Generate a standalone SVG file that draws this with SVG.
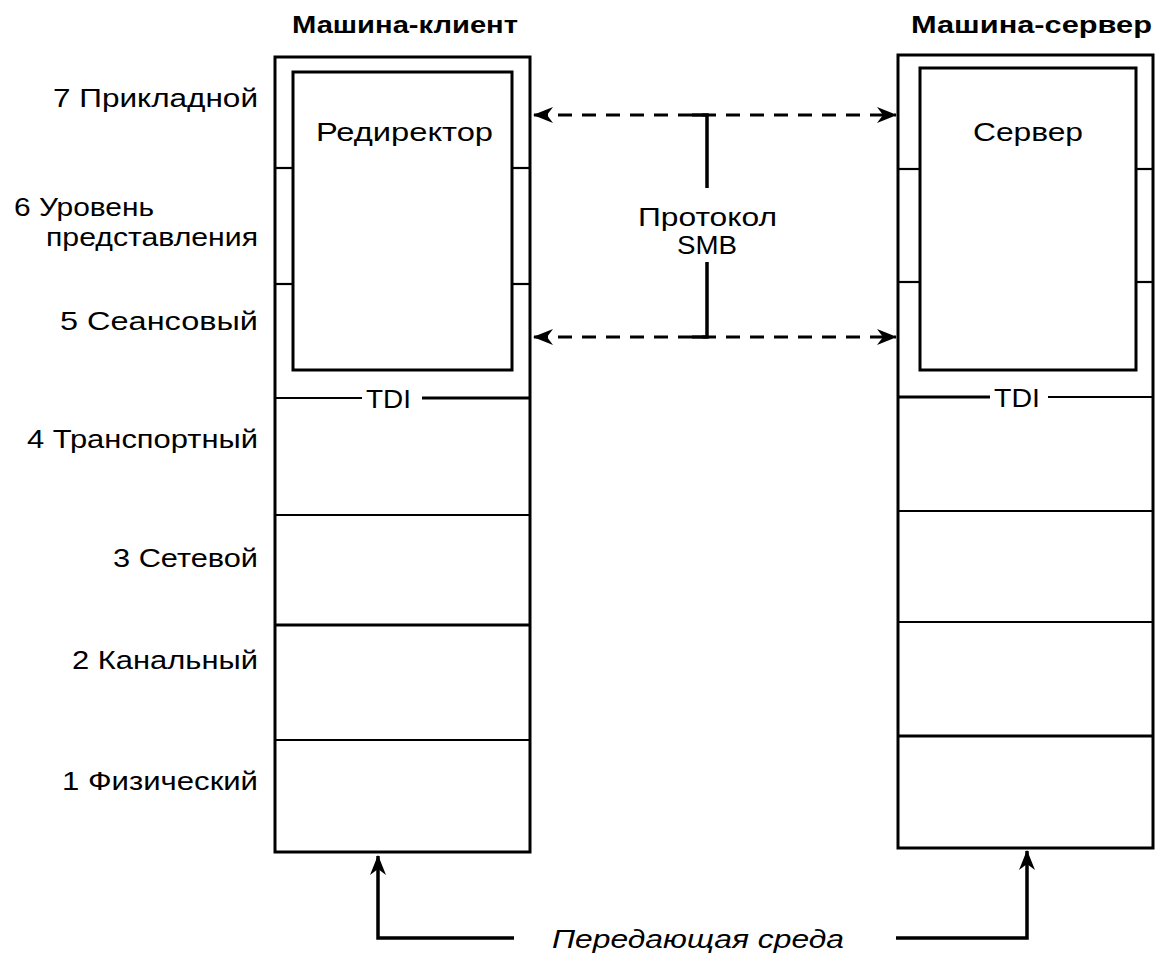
<svg xmlns="http://www.w3.org/2000/svg" width="1155" height="957" viewBox="0 0 1155 957">
  <style>
    .bg { fill: #ffffff; }
    .box { fill: none; stroke: #000; stroke-width: 3; }
    .div { fill: none; stroke: #000; stroke-width: 2.2; }
    .lbl { font-family: "Liberation Sans", "DejaVu Sans", sans-serif; font-size: 25px; fill: #000; }
    .title { font-family: "Liberation Sans", "DejaVu Sans", sans-serif; font-size: 24px; font-weight: bold; fill: #000; }
    .ital { font-style: italic; }
    .dash { fill: none; stroke: #000; stroke-width: 3; stroke-dasharray: 14 10; }
    .solid { fill: none; stroke: #000; stroke-width: 3.5; }
  </style>
  <defs>
    <marker id="arrow" viewBox="0 0 20 16" refX="19" refY="8" markerWidth="20" markerHeight="16" markerUnits="userSpaceOnUse" orient="auto-start-reverse">
      <path d="M0,0 L20,8 L0,16 L6,8 Z" fill="#000"/>
    </marker>
  </defs>

  <rect class="bg" x="0" y="0" width="1155" height="957"/>

  <!-- Titles -->
  <text class="title" x="292" y="33" textLength="226" lengthAdjust="spacingAndGlyphs">Машина-клиент</text>
  <text class="title" x="911" y="33" textLength="241" lengthAdjust="spacingAndGlyphs">Машина-сервер</text>

  <!-- OSI layer labels -->
  <g id="layer-labels">
    <text class="lbl" x="53" y="107" textLength="205" lengthAdjust="spacingAndGlyphs">7 Прикладной</text>
    <text class="lbl" x="14" y="216" textLength="140" lengthAdjust="spacingAndGlyphs">6 Уровень</text>
    <text class="lbl" x="46" y="246" textLength="212" lengthAdjust="spacingAndGlyphs">представления</text>
    <text class="lbl" x="60" y="330" textLength="198" lengthAdjust="spacingAndGlyphs">5 Сеансовый</text>
    <text class="lbl" x="27" y="448" textLength="231" lengthAdjust="spacingAndGlyphs">4 Транспортный</text>
    <text class="lbl" x="113" y="567" textLength="145" lengthAdjust="spacingAndGlyphs">3 Сетевой</text>
    <text class="lbl" x="72" y="669" textLength="186" lengthAdjust="spacingAndGlyphs">2 Канальный</text>
    <text class="lbl" x="62" y="790" textLength="196" lengthAdjust="spacingAndGlyphs">1 Физический</text>
  </g>

  <!-- Client machine stack -->
  <g id="client">
    <rect class="box" x="275" y="57" width="255" height="795"/>
    <rect class="box" x="293" y="72" width="219" height="298"/>
    <line class="div" x1="275" y1="168" x2="293" y2="168"/>
    <line class="div" x1="512" y1="168" x2="530" y2="168"/>
    <line class="div" x1="275" y1="284" x2="293" y2="284"/>
    <line class="div" x1="512" y1="284" x2="530" y2="284"/>
    <line class="div" x1="275" y1="398" x2="362" y2="398"/>
    <line class="box" x1="422" y1="398" x2="530" y2="398"/>
    <text class="lbl" x="366" y="408" textLength="45" lengthAdjust="spacingAndGlyphs">TDI</text>
    <line class="div" x1="275" y1="515" x2="530" y2="515"/>
    <line class="box" x1="275" y1="625" x2="530" y2="625"/>
    <line class="div" x1="275" y1="740" x2="530" y2="740"/>
    <text class="lbl" x="316" y="141" textLength="177" lengthAdjust="spacingAndGlyphs">Редиректор</text>
  </g>

  <!-- Server machine stack -->
  <g id="server">
    <rect class="box" x="898" y="55" width="255" height="793"/>
    <rect class="box" x="920" y="68" width="216" height="302"/>
    <line class="div" x1="898" y1="169" x2="920" y2="169"/>
    <line class="div" x1="1136" y1="169" x2="1153" y2="169"/>
    <line class="div" x1="898" y1="282" x2="920" y2="282"/>
    <line class="div" x1="1136" y1="282" x2="1153" y2="282"/>
    <line class="box" x1="898" y1="397" x2="990" y2="397"/>
    <line class="div" x1="1048" y1="397" x2="1153" y2="397"/>
    <text class="lbl" x="994" y="407" textLength="46" lengthAdjust="spacingAndGlyphs">TDI</text>
    <line class="div" x1="898" y1="511" x2="1153" y2="511"/>
    <line class="div" x1="898" y1="622" x2="1153" y2="622"/>
    <line class="box" x1="898" y1="736" x2="1153" y2="736"/>
    <text class="lbl" x="973" y="141" textLength="110" lengthAdjust="spacingAndGlyphs">Сервер</text>
  </g>

  <!-- SMB protocol label -->
  <g id="smb">
    <text class="lbl" x="638" y="226" textLength="139" lengthAdjust="spacingAndGlyphs">Протокол</text>
    <text class="lbl" x="677" y="254" textLength="60" lengthAdjust="spacingAndGlyphs">SMB</text>
  </g>

  <!-- Transmission medium label -->
  <g id="medium">
    <text class="lbl ital" x="552" y="948" textLength="292" lengthAdjust="spacingAndGlyphs">Передающая среда</text>
  </g>

  <!-- Connectors -->
  <g id="connectors">
    <line class="dash" x1="534" y1="115" x2="896" y2="115" marker-start="url(#arrow)" marker-end="url(#arrow)"/>
    <line class="dash" x1="534" y1="337" x2="896" y2="337" marker-start="url(#arrow)" marker-end="url(#arrow)"/>
    <polyline class="solid" points="692,115 707,115 707,188"/>
    <polyline class="solid" points="692,337 707,337 707,262"/>
    <polyline class="solid" points="514,938 378,938 378,856" marker-end="url(#arrow)"/>
    <polyline class="solid" points="896,938 1027,938 1027,851" marker-end="url(#arrow)"/>
  </g>
</svg>
